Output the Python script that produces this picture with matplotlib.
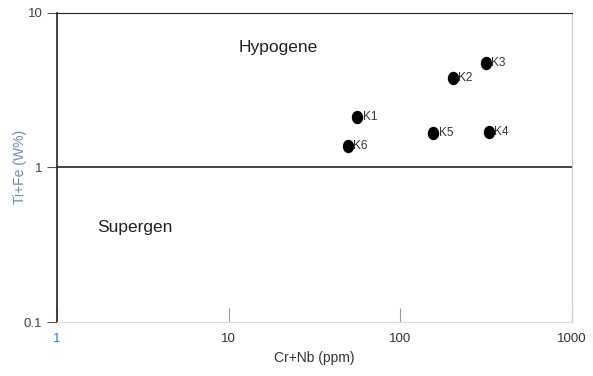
import matplotlib
matplotlib.use("Agg")
import matplotlib.pyplot as plt
from matplotlib.path import Path
from matplotlib.transforms import Affine2D

plt.rcParams["font.family"] = ["Liberation Sans", "DejaVu Sans"]

# samples: Cr+Nb (ppm) vs Ti+Fe (W%)
sample_names = ["K1", "K2", "K3", "K4", "K5", "K6"]
cr_nb = [56, 202, 315, 328, 155, 49.5]
ti_fe = [2.13, 3.78, 4.76, 1.69, 1.67, 1.38]

x_ticks = [1, 10, 100, 1000]
y_ticks = [0.1, 1, 10]
boundary = 1.0

# slightly tall dots like in the original figure
dot = Path.unit_circle().transformed(Affine2D().scale(0.83, 1.0))

fig = plt.figure(figsize=(5.93, 3.76), dpi=100)
ax = fig.add_axes([0.0961, 0.1436, 0.8685, 0.8226])
ax.set_xscale("log")
ax.set_yscale("log")
ax.set_xlim(1, 1000)
ax.set_ylim(0.1, 10)

ax.scatter(cr_nb, ti_fe, s=75, color="black", marker=dot, zorder=3)
for name, x, y in zip(sample_names, cr_nb, ti_fe):
    ax.annotate(name, (x, y), xytext=(4, 0), textcoords="offset points",
                va="center", ha="left", fontsize=8.5, color="#333333")

ax.axhline(boundary, color="#222222", lw=1.2)
ax.text(0.352, 0.872, "Hypogene", transform=ax.transAxes, fontsize=12.5, color="#222222")
ax.text(0.078, 0.29, "Supergen", transform=ax.transAxes, fontsize=12.5, color="#222222")

ax.spines["top"].set_color("#222222")
ax.spines["left"].set_color("#222222")
ax.spines["left"].set_linewidth(1.2)
ax.spines["right"].set_color("#cccccc")
ax.spines["bottom"].set_color("#dddddd")

ax.set_xticks(x_ticks)
ax.set_xticklabels(["1", "10", "100", "1000"])
ax.set_yticks(y_ticks)
ax.set_yticklabels(["0.1", "1", "10"])
ax.minorticks_off()
ax.tick_params(axis="x", direction="in", length=10, color="#999999",
               labelsize=9.5, labelcolor="#333333", pad=8)
ax.tick_params(axis="y", direction="out", length=7, color="#555555",
               labelsize=9.5, labelcolor="#444444")
ax.get_xticklabels()[0].set_color("#3a7fc0")

ax.set_xlabel("Cr+Nb (ppm)", fontsize=10, color="#333333", labelpad=4)
ax.set_ylabel("Ti+Fe (W%)", fontsize=10, color="#6a8fb0", labelpad=-2)

fig.savefig("out.png", dpi=100)
